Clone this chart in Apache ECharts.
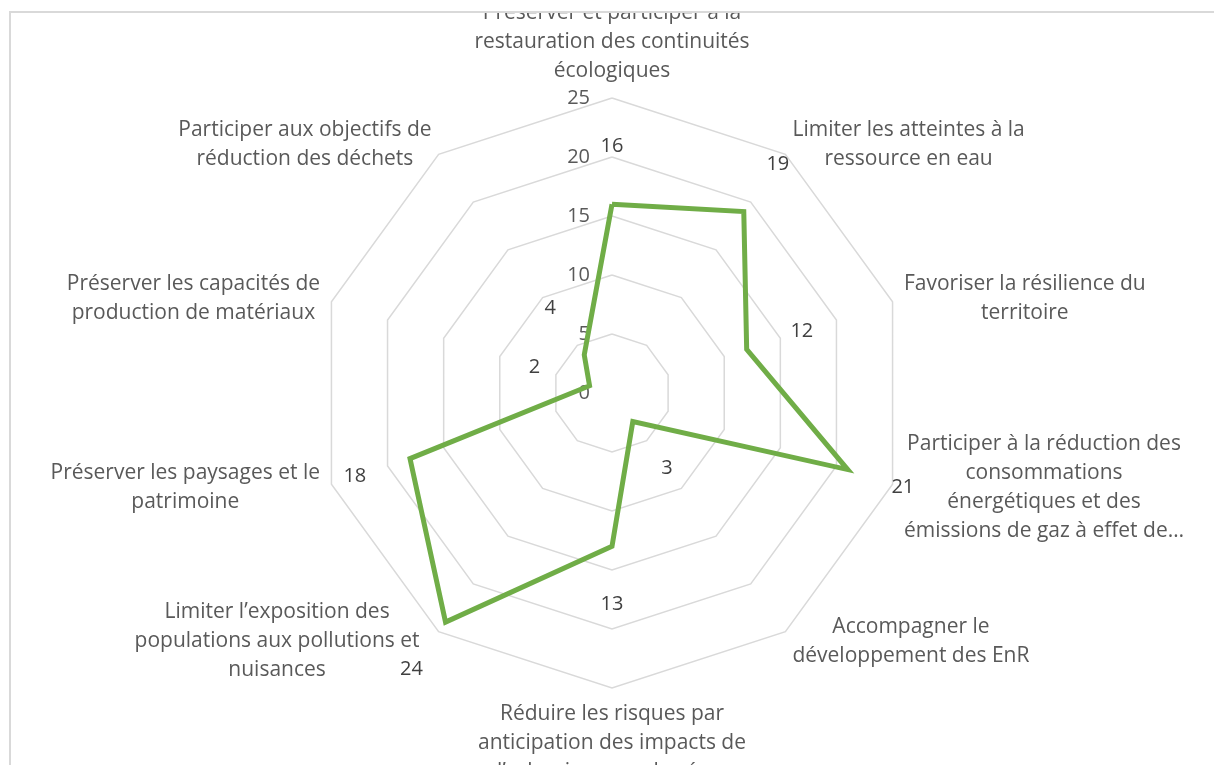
<!DOCTYPE html>
<html>
<head>
<meta charset="utf-8">
<script src="https://cdn.jsdelivr.net/npm/echarts@6/dist/echarts.min.js"></script>
<style>
  html, body { margin: 0; padding: 0; width: 1214px; height: 765px; overflow: hidden; background: #fff; }
  #frame { position: absolute; left: 9px; top: 11px; width: 1300px; height: 800px;
           border-left: 2px solid #d9d9d9; border-top: 2px solid #d9d9d9; overflow: hidden; }
  #main { position: absolute; left: -11px; top: -13px; width: 1214px; height: 765px; }
</style>
</head>
<body>
<div id="frame"><div id="main"></div></div>
<script>
// axes, clockwise from the top (as in the original Excel chart)
const categories = [
  'Préserver et participer à la\nrestauration des continuités\nécologiques',
  'Limiter les atteintes à la\nressource en eau',
  'Favoriser la résilience du\nterritoire',
  'Participer à la réduction des\nconsommations\nénergétiques et des\némissions de gaz à effet de…',
  'Accompagner le\ndéveloppement des EnR',
  'Réduire les risques par\nanticipation des impacts de\nl’urbanisme sur les éq…',
  'Limiter l’exposition des\npopulations aux pollutions et\nnuisances',
  'Préserver les paysages et le\npatrimoine',
  'Préserver les capacités de\nproduction de matériaux',
  'Participer aux objectifs de\nréduction des déchets'
];
const values = [16, 19, 12, 21, 3, 13, 24, 18, 2, 4];
const axisMax = 25;
const axisSplits = 5;

const font = 'Open Sans';
const nameSize = 21;
const numSize = 20;
const textGrey = '#595959';
const cx = 612, cy = 393, R = 295;
const labelGap = 58;
// Excel nudged the "exposition" name sideways, away from its data label
const namePads = [0, 0, 0, 0, 0, 0, 12, 0, 0, 0];

// echarts radar places indicators counter-clockwise, so walk the list backwards
const n = categories.length;
const radarOrder = [0];
for (let i = n - 1; i > 0; i--) radarOrder.push(i);

const chart = echarts.init(document.getElementById('main'));

const option = {
  animation: false,
  radar: {
    center: [cx, cy],
    radius: R,
    startAngle: 90,
    shape: 'polygon',
    splitNumber: axisSplits,
    nameGap: 12,
    indicator: radarOrder.map(i => ({
      name: categories[i],
      min: 0,
      max: axisMax,
      nameTextStyle: { padding: [0, namePads[i], 0, 0] },
      axisLabel: { show: i === 0 }
    })),
    axisName: {
      color: textGrey,
      formatter: name => name.split('\n').map(l => '{c|' + l + '}').join('\n'),
      rich: {
        c: { align: 'center', fontFamily: font, fontSize: nameSize, lineHeight: 29, color: textGrey }
      }
    },
    axisLine: { show: false },
    axisTick: { show: false },
    axisLabel: { show: false, margin: 22, color: textGrey, fontFamily: font, fontSize: numSize },
    splitLine: { lineStyle: { color: '#d9d9d9', width: 1.5 } },
    splitArea: { show: false }
  },
  polar: { center: [cx, cy], radius: R },
  angleAxis: { type: 'value', min: 0, max: 360, startAngle: 90, clockwise: true, show: false },
  radiusAxis: { type: 'value', min: 0, max: axisMax, show: false },
  series: [
    {
      type: 'radar',
      silent: true,
      symbol: 'none',
      lineStyle: { color: '#70ad47', width: 5, join: 'miter' },
      data: [{ name: 'Score', value: radarOrder.map(i => values[i]) }]
    },
    {
      // data labels, pushed outward along each axis like Excel does
      type: 'custom',
      coordinateSystem: 'polar',
      silent: true,
      data: values.map((v, i) => [v, i * 360 / n]),
      renderItem: function (params, api) {
        const pt = api.coord([api.value(0), api.value(1)]);
        const a = api.value(1) * Math.PI / 180;
        return {
          type: 'text',
          x: pt[0] + Math.sin(a) * labelGap,
          y: pt[1] - Math.cos(a) * labelGap,
          style: {
            text: String(api.value(0)),
            fill: '#404040',
            fontFamily: font,
            fontSize: numSize,
            align: 'center',
            verticalAlign: 'middle'
          }
        };
      }
    }
  ]
};

chart.setOption(option);
</script>
</body>
</html>
